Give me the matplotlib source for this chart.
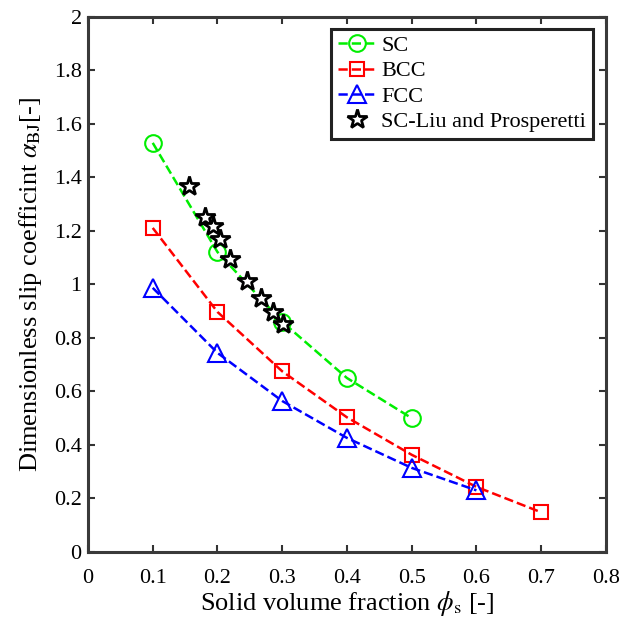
import numpy as np
import matplotlib
matplotlib.use("Agg")
import matplotlib.pyplot as plt

# Data
phi_sc = [0.1, 0.2, 0.3, 0.4, 0.5]
alpha_sc = [1.529, 1.121, 0.860, 0.650, 0.500]

phi_bcc = [0.1, 0.2, 0.3, 0.4, 0.5, 0.6, 0.7]
alpha_bcc = [1.211, 0.897, 0.675, 0.503, 0.363, 0.243, 0.148]

phi_fcc = [0.1, 0.2, 0.3, 0.4, 0.5, 0.6]
alpha_fcc = [0.987, 0.744, 0.564, 0.426, 0.314, 0.230]

phi_liu = [0.156, 0.181, 0.193, 0.204, 0.220, 0.245, 0.268, 0.286, 0.302]
alpha_liu = [1.368, 1.253, 1.219, 1.169, 1.094, 1.014, 0.948, 0.895, 0.852]

x_ticks = [0, 0.1, 0.2, 0.3, 0.4, 0.5, 0.6, 0.7, 0.8]
y_ticks = [0, 0.2, 0.4, 0.6, 0.8, 1, 1.2, 1.4, 1.6, 1.8, 2]

plt.rcParams['font.family'] = ['Liberation Serif', 'DejaVu Serif']
plt.rcParams['mathtext.fontset'] = 'stix'

fig = plt.figure(figsize=(6.24, 6.25), dpi=100)
ax = fig.add_axes([0.141, 0.117, 0.830, 0.856])

ax.plot(phi_sc, alpha_sc, '--', color='#00ee00', lw=1.8, marker='o',
        ms=12, mfc='none', mec='#00ee00', mew=1.5, label='SC')
ax.plot(phi_bcc, alpha_bcc, '--', color='#ff0000', lw=1.8, marker='s',
        ms=10, mfc='none', mec='#ff0000', mew=1.5, label='BCC')
ax.plot(phi_fcc, alpha_fcc, '--', color='#0000ff', lw=1.8, marker='^',
        ms=13, mfc='none', mec='#0000ff', mew=1.5, label='FCC')
ax.plot(phi_liu, alpha_liu, linestyle='none', marker='*', ms=15,
        mfc='white', mec='black', mew=2.0, label='SC-Liu and Prosperetti')

ax.set_xlim(0, 0.8)
ax.set_ylim(0, 2)
ax.set_xticks(x_ticks)
ax.set_yticks(y_ticks)
ax.set_xticklabels([f'{v:g}' for v in x_ticks])
ax.set_yticklabels([f'{v:g}' for v in y_ticks])
ax.tick_params(direction='in', length=5, width=1.5, top=True, right=True,
               labelsize=16, colors='#333333', labelcolor='black')
ax.tick_params(axis='x', pad=12)
ax.tick_params(axis='y', pad=4.5)

for sp in ax.spines.values():
    sp.set_linewidth(2.2)
    sp.set_color('#3a3a3a')

ax.set_xlabel(r'Solid volume fraction $\phi_{\mathrm{s}}$ [-]', fontsize=19, labelpad=1)
ax.set_ylabel(r'Dimensionless slip coefficint $\alpha_{\mathrm{BJ}}$[-]', fontsize=19, labelpad=7)

leg = ax.legend(loc='upper right', bbox_to_anchor=(0.975, 0.978), fontsize=16,
                fancybox=False, framealpha=1, edgecolor='#222222',
                handlelength=1.7, handletextpad=0.25, borderpad=0.3,
                labelspacing=0.22, borderaxespad=0)
leg.get_frame().set_linewidth(2.2)

fig.savefig('out.png', dpi=100)
